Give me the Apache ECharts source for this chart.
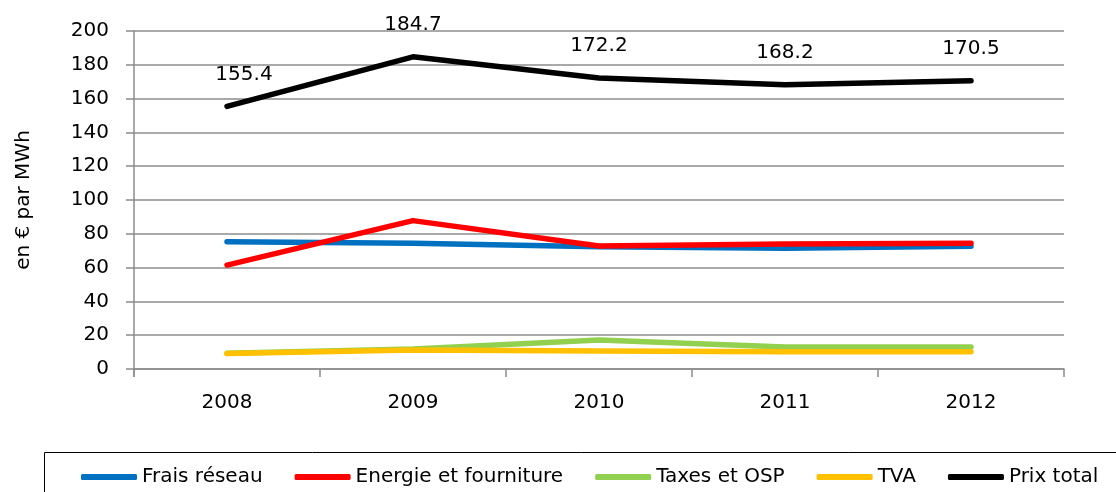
<!DOCTYPE html>
<html>
<head>
<meta charset="utf-8">
<script src="https://cdn.jsdelivr.net/npm/echarts@6/dist/echarts.min.js"></script>
<style>
  html, body { margin: 0; padding: 0; background: #fff; }
  #chart { width: 1116px; height: 492px; }
</style>
</head>
<body>
<div id="chart"></div>
<script>
// données
var years = ["2008", "2009", "2010", "2011", "2012"];
var fraisReseau = [75.3, 74.4, 72.3, 71.5, 72.6];
var energie = [61.5, 87.8, 72.8, 74.0, 74.4];
var taxes = [9.3, 11.8, 17.2, 13.0, 13.0];
var tva = [9.1, 11.2, 10.6, 10.2, 10.2];
var prixTotal = [155.4, 184.7, 172.2, 168.2, 170.5];

var font = "DejaVu Sans";
var grey = "#8c8c8c";

function serie(name, data, color, label) {
  return {
    name: name,
    type: "line",
    // la 1re étiquette est décalée à droite comme dans Excel
    data: label
      ? data.map(function (v, i) {
          return i === 0 ? { value: v, label: { offset: [17, 0] } } : v;
        })
      : data,
    symbol: "circle",
    symbolSize: 0.1,
    showSymbol: true,
    lineStyle: { color: color, width: 5.5, cap: "round", join: "round" },
    itemStyle: { color: color },
    label: label
      ? { show: true, position: "top", distance: 22, fontFamily: font, fontSize: 20, color: "#000" }
      : { show: false },
    z: 3,
  };
}

var chart = echarts.init(document.getElementById("chart"));
chart.setOption({
  animation: false,
  backgroundColor: "#fff",
  grid: { left: 134, right: 52, top: 31, bottom: 123 },
  xAxis: {
    type: "category",
    data: years,
    boundaryGap: true,
    axisLine: { lineStyle: { color: grey, width: 1.5 } },
    axisTick: { show: true, length: 8, inside: false, lineStyle: { color: grey, width: 1.5 } },
    axisLabel: { fontFamily: font, fontSize: 20, color: "#000", margin: 24 },
  },
  yAxis: {
    type: "value",
    min: 0,
    max: 200,
    interval: 20,
    name: "en € par MWh",
    nameLocation: "middle",
    nameGap: 100,
    nameTextStyle: { fontFamily: font, fontSize: 20, color: "#000" },
    axisLine: { show: true, lineStyle: { color: grey, width: 1.5 } },
    axisTick: { show: true, length: 8, lineStyle: { color: grey, width: 1.5 } },
    axisLabel: { fontFamily: font, fontSize: 20, color: "#000", margin: 25 },
    splitLine: { lineStyle: { color: grey, width: 1.5 } },
  },
  legend: {
    left: 76,
    top: 462,
    itemWidth: 56,
    itemHeight: 6,
    itemGap: 32,
    icon: "roundRect",
    textStyle: { fontFamily: font, fontSize: 20, color: "#000" },
    data: ["Frais réseau", "Energie et fourniture", "Taxes et OSP", "TVA", "Prix total"],
  },
  graphic: [
    {
      type: "rect",
      shape: { x: 44.5, y: 452.5, width: 1100, height: 60 },
      style: { fill: "none", stroke: "#000", lineWidth: 1 },
      silent: true,
    },
    {
      // prolongement de l'axe vertical sous l'axe des x
      type: "line",
      shape: { x1: 134, y1: 369, x2: 134, y2: 377 },
      style: { stroke: grey, lineWidth: 1.5 },
      silent: true,
    },
  ],
  series: [
    serie("Frais réseau", fraisReseau, "#0070C0", false),
    serie("Energie et fourniture", energie, "#FF0000", false),
    serie("Taxes et OSP", taxes, "#92D050", false),
    serie("TVA", tva, "#FFC000", false),
    serie("Prix total", prixTotal, "#000000", true),
  ],
});
</script>
</body>
</html>
